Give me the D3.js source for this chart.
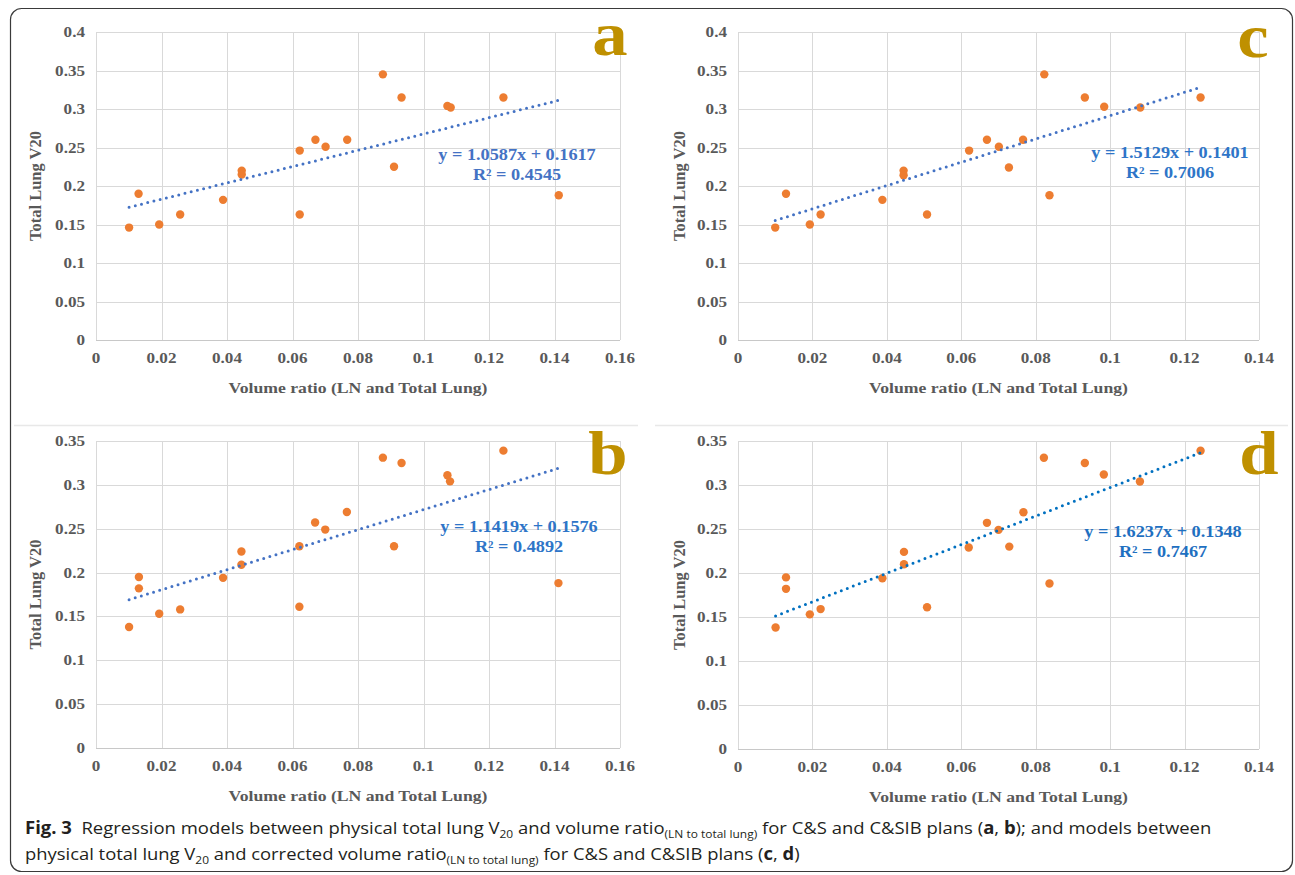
<!DOCTYPE html>
<html>
<head>
<meta charset="utf-8">
<script src="https://cdn.jsdelivr.net/npm/d3@7/dist/d3.min.js"></script>
<style>
  html, body { margin: 0; padding: 0; background: #fff; }
  svg { display: block; }
</style>
</head>
<body>
<div id="chart"></div>
<script>
// ---------------- DATA ----------------
// Panel a: volume ratio vs total lung V20 (C&S)
const xA = [0.0101,0.0130,0.0193,0.0257,0.0388,0.0445,0.0445,0.0622,0.0622,0.0670,0.0701,0.0767,0.0876,0.0910,0.0933,0.1073,0.1083,0.1244,0.1413];
const yA = [0.146,0.190,0.150,0.163,0.182,0.220,0.215,0.246,0.163,0.260,0.251,0.260,0.345,0.225,0.315,0.304,0.302,0.315,0.188];
// Panel b: volume ratio vs total lung V20 (C&SIB)
const xB = [0.0101,0.0131,0.0131,0.0193,0.0257,0.0388,0.0444,0.0444,0.0621,0.0621,0.0669,0.0700,0.0766,0.0876,0.0910,0.0933,0.1073,0.1081,0.1244,0.1412];
const yB = [0.138,0.195,0.182,0.153,0.158,0.194,0.224,0.209,0.230,0.161,0.257,0.249,0.269,0.331,0.230,0.325,0.311,0.304,0.339,0.188];
// Panel c: corrected volume ratio vs total lung V20 (C&S)
const xC = [0.0100,0.0129,0.0193,0.0222,0.0388,0.0445,0.0445,0.0508,0.0621,0.0669,0.0701,0.0728,0.0766,0.0823,0.0837,0.0932,0.0984,0.1081,0.1243];
const yC = [0.146,0.190,0.150,0.163,0.182,0.220,0.214,0.163,0.246,0.260,0.251,0.224,0.260,0.345,0.188,0.315,0.303,0.302,0.315];
// Panel d: corrected volume ratio vs total lung V20 (C&SIB)
const xD = [0.0101,0.0129,0.0129,0.0193,0.0222,0.0388,0.0446,0.0446,0.0508,0.0620,0.0669,0.0700,0.0729,0.0767,0.0822,0.0837,0.0932,0.0983,0.1080,0.1243];
const yD = [0.138,0.195,0.182,0.153,0.159,0.194,0.224,0.210,0.161,0.229,0.257,0.249,0.230,0.269,0.331,0.188,0.325,0.312,0.304,0.339];

// Regression models (a, b, c, d)
const panelLetters = ["a", "b", "c", "d"];
const slopes = [1.0587, 1.1419, 1.5129, 1.6237];
const intercepts = [0.1617, 0.1576, 0.1401, 0.1348];
const rSquared = ["0.4545", "0.4892", "0.7006", "0.7467"];

// Tick values
const xTicksAB = [0, 0.02, 0.04, 0.06, 0.08, 0.1, 0.12, 0.14, 0.16];
const xTicksCD = [0, 0.02, 0.04, 0.06, 0.08, 0.1, 0.12, 0.14];
const yTicksAC = [0, 0.05, 0.1, 0.15, 0.2, 0.25, 0.3, 0.35, 0.4];
const yTicksBD = [0, 0.05, 0.1, 0.15, 0.2, 0.25, 0.3, 0.35];

const xAxisTitle = "Volume ratio (LN and Total Lung)";
const yAxisTitle = "Total Lung V20";

// ---------------- LAYOUT / STYLE ----------------
const W = 1295, H = 875;
const serif = "'Liberation Serif', 'Times New Roman', 'DejaVu Serif', serif";
const SX = 1.14; // horizontal stretch of the original figure's text
const tickColor = "#595959";
const gridColor = "#d9d9d9";
const dotColor = "#ed7d31";
const letterColor = "#bf9000";

const panels = [
  { xs: xA, ys: yA, xt: xTicksAB, yt: yTicksAC, L: 96,  R: 620,  T: 32,  B: 340, eqX: 517,  eqY: 160, eqColor: "#4472c4", lineColor: "#4472c4", letX: 610,  letY: 55,  yLabX: 36 },
  { xs: xB, ys: yB, xt: xTicksAB, yt: yTicksBD, L: 96,  R: 620,  T: 441, B: 748, eqX: 519,  eqY: 532, eqColor: "#2e75c8", lineColor: "#4472c4", letX: 608,  letY: 474, yLabX: 36 },
  { xs: xC, ys: yC, xt: xTicksCD, yt: yTicksAC, L: 738, R: 1259, T: 32,  B: 340, eqX: 1170, eqY: 158, eqColor: "#2e75c8", lineColor: "#4472c4", letX: 1253, letY: 57,  yLabX: 680 },
  { xs: xD, ys: yD, xt: xTicksCD, yt: yTicksBD, L: 738, R: 1259, T: 441, B: 749, eqX: 1163, eqY: 537, eqColor: "#1f70c1", lineColor: "#0070c0", letX: 1259, letY: 474, yLabX: 680 }
];

const svg = d3.select("#chart").append("svg")
  .attr("width", W).attr("height", H)
  .attr("viewBox", `0 0 ${W} ${H}`);

svg.append("rect").attr("width", W).attr("height", H).attr("fill", "#fff");

// outer frame
svg.append("rect")
  .attr("x", 10.5).attr("y", 8.5)
  .attr("width", 1282).attr("height", 863)
  .attr("rx", 11).attr("ry", 11)
  .attr("fill", "none").attr("stroke", "#3a3a3a").attr("stroke-width", 1.2);

// faint separators between the chart rows
svg.append("line").attr("x1", 14).attr("x2", 638).attr("y1", 425.5).attr("y2", 425.5)
  .attr("stroke", "#e8e8e8").attr("stroke-width", 1.5);
svg.append("line").attr("x1", 655).attr("x2", 1288).attr("y1", 425.5).attr("y2", 425.5)
  .attr("stroke", "#e8e8e8").attr("stroke-width", 1.5);

const fmt = d => String(+d.toFixed(2));

function stretchedText(g, x, y, str, size, color, anchor, weight) {
  return g.append("text")
    .attr("transform", `translate(${x},${y}) scale(${SX},1)`)
    .attr("text-anchor", anchor || "middle")
    .attr("font-family", serif)
    .attr("font-weight", weight || "bold")
    .attr("font-size", size)
    .attr("fill", color)
    .text(str);
}

panels.forEach((p, i) => {
  const g = svg.append("g");
  const x = d3.scaleLinear().domain([p.xt[0], p.xt[p.xt.length - 1]]).range([p.L, p.R]);
  const y = d3.scaleLinear().domain([p.yt[0], p.yt[p.yt.length - 1]]).range([p.B, p.T]);

  // horizontal gridlines
  g.append("g").selectAll("line").data(p.yt).join("line")
    .attr("x1", p.L).attr("x2", p.R)
    .attr("y1", d => Math.round(y(d)) + 0.5).attr("y2", d => Math.round(y(d)) + 0.5)
    .attr("stroke", d => d === 0 ? "#c8c8c8" : gridColor).attr("stroke-width", 1);

  // vertical gridlines
  g.append("g").selectAll("line").data(p.xt).join("line")
    .attr("x1", d => Math.round(x(d)) + 0.5).attr("x2", d => Math.round(x(d)) + 0.5)
    .attr("y1", p.T).attr("y2", p.B)
    .attr("stroke", gridColor).attr("stroke-width", 1);

  // tick labels
  p.yt.forEach(t => stretchedText(g, p.L - 11, y(t) + 5, fmt(t), 15, tickColor, "end"));
  p.xt.forEach(t => stretchedText(g, x(t), p.B + 23, fmt(t), 15, tickColor, "middle"));

  // axis titles
  stretchedText(g, (p.L + p.R) / 2, p.B + 53, xAxisTitle, 15.5, tickColor, "middle");
  g.append("text")
    .attr("transform", `translate(${p.yLabX + 5},${(p.T + p.B) / 2}) rotate(-90)`)
    .attr("text-anchor", "middle")
    .attr("font-family", serif).attr("font-weight", "bold")
    .attr("font-size", 16.5).attr("fill", tickColor)
    .text(yAxisTitle);

  // data points
  const pts = p.xs.map((v, k) => [v, p.ys[k]]);
  g.append("g").selectAll("circle").data(pts).join("circle")
    .attr("cx", d => x(d[0])).attr("cy", d => y(d[1]))
    .attr("r", 4.2).attr("fill", dotColor);

  // linear trendline (dotted)
  const x0 = d3.min(p.xs), x1 = d3.max(p.xs);
  const line = d3.line().x(d => x(d)).y(d => y(slopes[i] * d + intercepts[i]));
  g.append("path")
    .attr("d", line([x0, x1]))
    .attr("fill", "none").attr("stroke", p.lineColor)
    .attr("stroke-width", 3).attr("stroke-linecap", "round")
    .attr("stroke-dasharray", "0 6.4");

  // equation
  stretchedText(g, p.eqX, p.eqY, `y = ${slopes[i].toFixed(4)}x + ${intercepts[i].toFixed(4)}`, 16, p.eqColor, "middle");
  stretchedText(g, p.eqX, p.eqY + 20, `R² = ${rSquared[i]}`, 16, p.eqColor, "middle");

  // panel letter
  stretchedText(g, p.letX, p.letY, panelLetters[i], 62, letterColor, "middle");
});

// ---------------- CAPTION ----------------
const capFont = "'Liberation Sans Narrow', 'Open Sans', 'Noto Sans', sans-serif";
function caption(y, targetWidth, parts) {
  const g = svg.append("g");
  const t = g.append("text")
    .attr("font-family", capFont).attr("font-size", 17).attr("fill", "#231f20")
    .style("white-space", "pre");
  parts.forEach(pt => {
    const ts = t.append("tspan").text(pt.s);
    if (pt.b) ts.attr("font-weight", "bold");
    if (pt.sub) ts.attr("font-size", 11).attr("dy", 4);
    if (pt.up) ts.attr("dy", -4);
  });
  const w = t.node().getComputedTextLength();
  g.attr("transform", `translate(25,${y}) scale(${targetWidth / w},1)`);
}
caption(834, 1187, [
  { s: "Fig. 3", b: true }, { s: "\u00a0\u00a0Regression models between physical total lung V" },
  { s: "20", sub: true }, { s: " and volume ratio", up: true }, { s: "(LN to total lung)", sub: true },
  { s: " for C&S and C&SIB plans (", up: true }, { s: "a", b: true }, { s: ", " }, { s: "b", b: true },
  { s: "); and models between" }
]);
caption(860, 775, [
  { s: "physical total lung V" }, { s: "20", sub: true }, { s: " and corrected volume ratio", up: true },
  { s: "(LN to total lung)", sub: true }, { s: " for C&S and C&SIB plans (", up: true },
  { s: "c", b: true }, { s: ", " }, { s: "d", b: true }, { s: ")" }
]);
</script>
</body>
</html>
